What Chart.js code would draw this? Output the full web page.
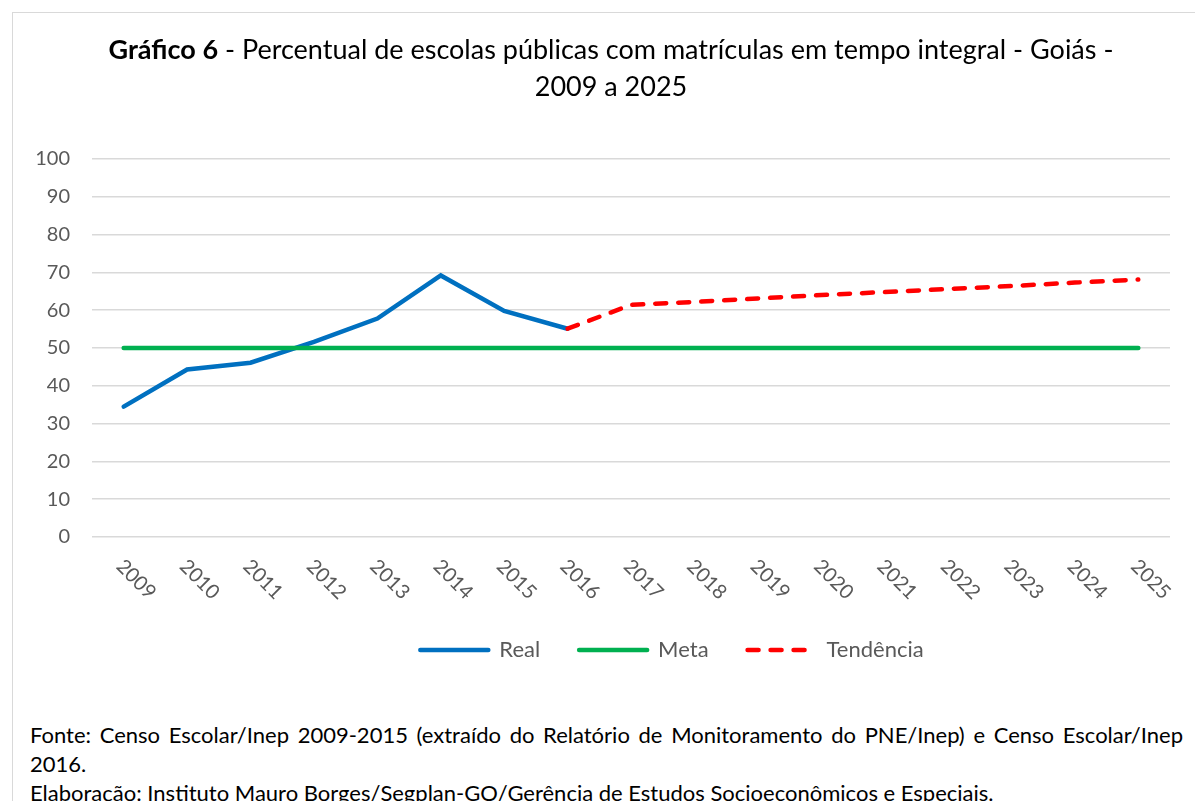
<!DOCTYPE html>
<html>
<head>
<meta charset="utf-8">
<script src="https://cdn.jsdelivr.net/npm/chart.js@4.4.0/dist/chart.umd.min.js"></script>
<style>
  body { margin: 0; background: #fff; overflow: hidden; font-family: Lato, sans-serif; }
  #frame { position: absolute; left: 12px; top: 12px; width: 1300px; height: 900px; border-left: 1px solid #d9d9d9; border-top: 1px solid #d9d9d9; }
  #box { position: absolute; left: 0; top: 0; width: 1195px; height: 690px; }
  #titulo { position: absolute; left: 12px; width: 1198px; top: 30px; text-align: center; font-size: 27px; line-height: 37px; color: #000; }
  #fonte { position: absolute; left: 30px; width: 1153px; top: 720px; font-size: 22px; line-height: 29px; color: #000; }
  .just { text-align: justify; text-align-last: justify; white-space: nowrap; }
</style>
</head>
<body>
<div id="frame"></div>
<div id="box"><canvas id="grafico"></canvas></div>
<div id="titulo"><b>Gráfico 6</b> - Percentual de escolas públicas com matrículas em tempo integral - Goiás -<br>2009 a 2025</div>
<div id="fonte">
  <div class="just">Fonte: Censo Escolar/Inep 2009-2015 (extraído do Relatório de Monitoramento do PNE/Inep) e Censo Escolar/Inep</div>
  <div>2016.</div>
  <div>Elaboração: Instituto Mauro Borges/Segplan-GO/Gerência de Estudos Socioeconômicos e Especiais.</div>
</div>
<script>
const anos = ['2009','2010','2011','2012','2013','2014','2015','2016','2017','2018','2019','2020','2021','2022','2023','2024','2025']
const real = [34.5, 44.3, 46.1, 51.6, 57.8, 69.2, 59.8, 55.1, null, null, null, null, null, null, null, null, null]
const meta = [50, 50, 50, 50, 50, 50, 50, 50, 50, 50, 50, 50, 50, 50, 50, 50, 50]
const tendencia = [null, null, null, null, null, null, null, 55.1, 61.4, 62.2, 63.1, 64.0, 64.8, 65.6, 66.4, 67.3, 68.1]

const corTexto = '#595959'

// rotulos do eixo x inclinados para baixo (como no Excel)
const rotulosX = {
  id: 'rotulosX',
  afterDraw(chart) {
    const ctx = chart.ctx
    const x = chart.scales.x
    ctx.save()
    ctx.font = '20px Lato'
    ctx.fillStyle = corTexto
    ctx.textAlign = 'left'
    ctx.textBaseline = 'middle'
    x.ticks.forEach((t, i) => {
      ctx.save()
      ctx.translate(x.getPixelForTick(i) - 4, x.top + 26)
      ctx.rotate(Math.PI / 4)
      ctx.fillText(anos[i], 0, 0)
      ctx.restore()
    })
    ctx.restore()
  }
}

// no original a legenda fica um pouco a direita do centro
const moveLegenda = {
  id: 'moveLegenda',
  afterLayout(chart) {
    chart.legend.left += 81
    chart.legend.right += 81
  }
}

// legenda em forma de linha, com o tracejado de cada serie
const gerarLegenda = chart => {
  const itens = Chart.defaults.plugins.legend.labels.generateLabels(chart)
  return itens.map(it => {
    const ds = chart.data.datasets[it.datasetIndex]
    it.lineDash = ds.borderDash || []
    it.lineWidth = ds.borderWidth
    it.lineCap = 'round'
    it.strokeStyle = ds.borderColor
    return it
  })
}

const graf = new Chart(
  document.getElementById('grafico'),
  {
    type: 'line',
    data: {
      labels: anos,
      datasets: [{
        label: 'Real',
        data: real,
        borderColor: '#0070C0',
        backgroundColor: '#0070C0',
        borderWidth: 4.5,
        borderCapStyle: 'round',
        pointRadius: 0,
        order: 3
      }, {
        label: 'Meta',
        data: meta,
        borderColor: '#00B050',
        backgroundColor: '#00B050',
        borderWidth: 4.5,
        borderCapStyle: 'round',
        pointRadius: 0,
        order: 2
      }, {
        label: 'Tendência',
        data: tendencia,
        borderColor: '#FF0000',
        backgroundColor: '#FF0000',
        borderWidth: 4.5,
        borderDash: [11, 12],
        borderCapStyle: 'round',
        pointRadius: 0,
        order: 1
      }]
    },
    options: {
      responsive: true,
      maintainAspectRatio: false,
      animation: false,
      layout: { padding: { left: 12, right: 25, top: 159, bottom: 19 } },
      plugins: {
        title: { display: false },
        tooltip: { enabled: false },
        legend: {
          position: 'bottom',
          labels: {
            usePointStyle: true,
            pointStyle: 'line',
            pointStyleWidth: 68,
            font: { family: 'Lato', size: 22 },
            color: corTexto,
            padding: 39,
            generateLabels: gerarLegenda,
            sort: (a, b) => a.datasetIndex - b.datasetIndex
          }
        }
      },
      scales: {
        x: {
          offset: true,
          grid: { display: false },
          border: { display: false },
          ticks: { display: false },
          afterFit: s => { s.height = 63 }
        },
        y: {
          min: 0,
          max: 100,
          ticks: { stepSize: 10, color: corTexto, font: { family: 'Lato', size: 20 }, padding: 22 },
          grid: { color: '#d9d9d9', lineWidth: 1.5, drawTicks: false },
          border: { display: false },
          afterFit: s => { s.width = 80 }
        }
      }
    },
    plugins: [rotulosX, moveLegenda]
  }
)
</script>
</body>
</html>
